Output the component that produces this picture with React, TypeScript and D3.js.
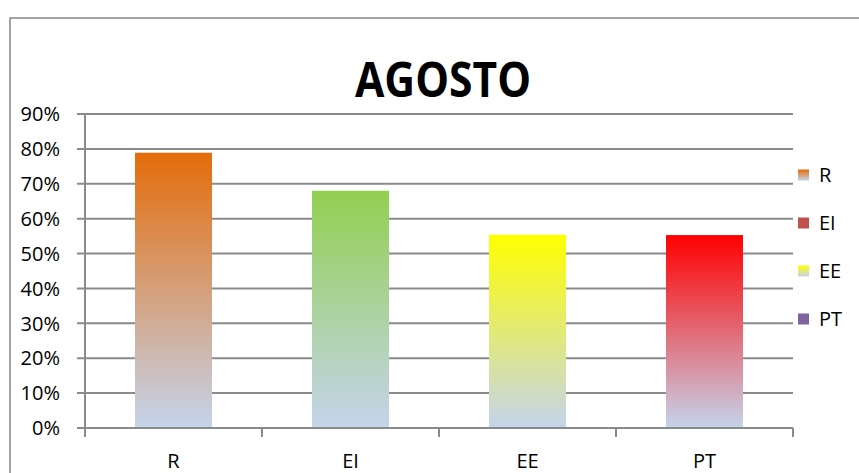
import React from "react";
import * as d3 from "d3";

const categories = ["R", "EI", "EE", "PT"];
const values = [0.789, 0.68, 0.554, 0.553];
const topColors = ["#E46C0A", "#92D050", "#FFFF00", "#FF0000"];
const legendLabels = ["R", "EI", "EE", "PT"];
const legendColors = ["url(#g0)", "#C0504D", "url(#g2)", "#8064A2"];
const yTicks = [0, 0.1, 0.2, 0.3, 0.4, 0.5, 0.6, 0.7, 0.8, 0.9];
const bottomColor = "#C5D4EC";

export default function App() {
  const W = 859, H = 473;
  const left = 85, right = 793, top = 114, bottom = 428;
  const y = d3.scaleLinear().domain([0, 0.9]).range([bottom, top]);
  const x = d3.scaleBand<string>().domain(categories).range([left, right]).paddingInner(0.565).paddingOuter(0.2825);
  const step = x.step();
  const grid = "#8a8a8a";
  const font = "'Open Sans', 'Liberation Sans', sans-serif";
  const fmt = d3.format(".0%");
  return (
    <svg width={W} height={H} style={{ position: "fixed", left: 0, top: 0, background: "#fff" }}>
      <defs>
        {topColors.map((c, i) => (
          <linearGradient key={i} id={`g${i}`} x1="0" y1="0" x2="0" y2="1">
            <stop offset="0" stopColor={c} />
            <stop offset="1" stopColor={bottomColor} />
          </linearGradient>
        ))}
      </defs>
      <rect x={0} y={0} width={W} height={H} fill="#fff" />
      <rect x={10} y={18} width={W + 20} height={H + 20} fill="none" stroke="#868686" strokeWidth={1.5} />
      <text x={443} y={97} textAnchor="middle" fontFamily={font} fontWeight="bold" fontSize={48} textLength={176} lengthAdjust="spacingAndGlyphs">AGOSTO</text>
      {yTicks.map((t) => (
        <g key={t}>
          <line x1={77} x2={right} y1={y(t)} y2={y(t)} stroke={grid} strokeWidth={2} />
          <text x={60} y={y(t)} dy="0.36em" textAnchor="end" fontFamily={font} fontSize={20}>{fmt(t)}</text>
        </g>
      ))}
      <line x1={left} x2={left} y1={top} y2={bottom + 9} stroke={grid} strokeWidth={2} />
      {d3.range(categories.length + 1).map((i) => (
        <line key={i} x1={left + i * step} x2={left + i * step} y1={bottom} y2={bottom + 9} stroke={grid} strokeWidth={2} />
      ))}
      {categories.map((c, i) => (
        <rect key={c} x={x(c)} y={y(values[i])} width={x.bandwidth()} height={y(0) - y(values[i])} fill={`url(#g${i})`} />
      ))}
      <line x1={left} x2={right} y1={bottom} y2={bottom} stroke={grid} strokeWidth={2} />
      {categories.map((c) => (
        <text key={c} x={(x(c) as number) + x.bandwidth() / 2} y={468} textAnchor="middle" fontFamily={font} fontSize={20}>{c}</text>
      ))}
      {legendLabels.map((l, i) => {
        const cy = 175 + i * 48;
        return (
          <g key={l}>
            <rect x={798} y={cy - 5.5} width={11} height={11} fill={legendColors[i]} />
            <text x={819} y={cy} dy="0.36em" fontFamily={font} fontSize={20}>{l}</text>
          </g>
        );
      })}
    </svg>
  );
}
